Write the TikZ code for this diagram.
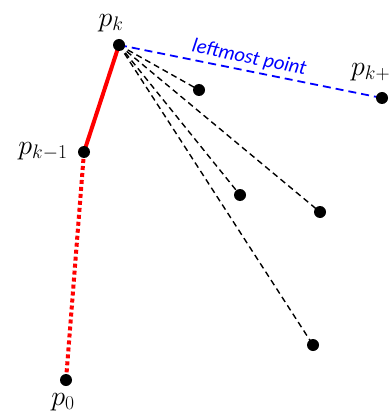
\documentclass[tikz,border=0pt]{standalone}
\usepackage{fontspec}
\usepackage{fix-cm}
\newfontfamily\labelsans{Carlito}
\begin{document}
\begin{tikzpicture}[x=1pt,y=-1pt,
  dot/.style={circle,fill=black,inner sep=0pt,minimum size=12pt},
  lbl/.style={font=\fontsize{28}{32}\selectfont,inner sep=0pt},
  hull/.style={red,line width=4pt},
  hulldot/.style={red,line width=4pt,dash pattern=on 4pt off 3pt},
  cand/.style={black,line width=1.4pt,dash pattern=on 6pt off 4pt},
  best/.style={blue,line width=1.8pt,dash pattern=on 8pt off 5pt}]
\useasboundingbox (0,0) rectangle (389,414);
\clip (0,0) rectangle (389,414);
\coordinate (pk) at (119,45);
\coordinate (pkm) at (84,152);
\coordinate (p0) at (66,380);
\coordinate (pkp) at (382,98);
\coordinate (a) at (199,90);
\coordinate (b) at (240,195);
\coordinate (c) at (320,212);
\coordinate (d) at (313,345);
\draw[hulldot] (pkm) -- (p0);
\draw[hull] (pkm) -- (pk);
\draw[cand] (pk) -- (a);
\draw[cand] (pk) -- (b);
\draw[cand] (pk) -- (c);
\draw[cand] (pk) -- (d);
\draw[best] (pk) -- (pkp) node[pos=0.485,above=0pt,sloped,text=blue,font=\labelsans\itshape\fontsize{20.5}{22}\selectfont] {leftmost point};
\foreach \p in {pk,pkm,p0,pkp,a,b,c,d} \node[dot] (n\p) at (\p) {};
\node[lbl] (lk) at (111,23) {$p_k$};
\node[lbl] (lkm) at (43,151) {$p_{k-1}$};
\node[lbl] (l0) at (63,402) {$p_0$};
\node[lbl,anchor=west] (lkp) at (351,72) {$p_{k+1}$};
\end{tikzpicture}
\end{document}
